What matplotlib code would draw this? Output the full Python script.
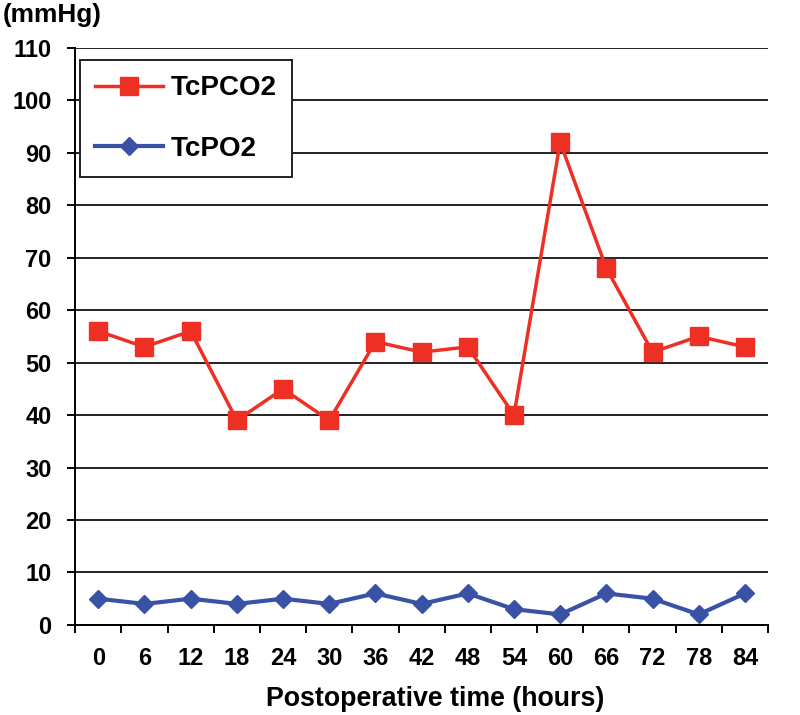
import matplotlib.pyplot as plt
import numpy as np

plt.rcParams['font.family'] = ['Liberation Sans', 'DejaVu Sans']
plt.rcParams['font.weight'] = 'bold'

# data
hours = ['0', '6', '12', '18', '24', '30', '36', '42', '48', '54', '60', '66', '72', '78', '84']
tcpco2 = [56, 53, 56, 39, 45, 39, 54, 52, 53, 40, 92, 68, 52, 55, 53]
tcpo2 = [5, 4, 5, 4, 5, 4, 6, 4, 6, 3, 2, 6, 5, 2, 6]

fig = plt.figure(figsize=(8, 7.15), dpi=100)
ax = fig.add_axes([0.094, 0.126, 0.866, 0.807])

x = np.arange(len(hours))
ax.plot(x, tcpco2, color='#EE3024', lw=2.5, marker='s', ms=13,
        label='TcPCO2', zorder=3)
ax.plot(x, tcpo2, color='#3A52A6', lw=3, marker='D', ms=9,
        label='TcPO2', zorder=3)

ax.set_xlim(-0.5, len(hours) - 0.5)
ax.set_ylim(0, 110)
ax.set_yticks(range(0, 111, 10))
ax.yaxis.grid(True, color='#222222', lw=1.4)
ax.set_axisbelow(True)

# category labels centred, tick marks at the boundaries
ax.set_xticks(x)
ax.set_xticklabels(hours)
ax.set_xticks(np.arange(-0.5, len(hours), 1), minor=True)
ax.tick_params(axis='x', which='major', length=0, labelsize=17, pad=16)
ax.tick_params(axis='x', which='minor', length=6, width=1.4, direction='out')
ax.tick_params(axis='y', length=6, width=1.4, labelsize=17, pad=11)

for s in ['top', 'right']:
    ax.spines[s].set_visible(False)
ax.spines['left'].set_linewidth(1.4)
ax.spines['bottom'].set_linewidth(1.4)

ax.set_xlabel('Postoperative time (hours)', fontsize=19.3, fontweight='bold')
ax.xaxis.set_label_coords(0.52, -0.106)
fig.text(0.004, 0.979, '(mmHg)', fontsize=18.9, fontweight='bold', va='center', ha='left')

leg = ax.legend(loc='upper left', bbox_to_anchor=(0.007, 0.979), fontsize=20,
                labelspacing=1.25, handlelength=2.45, handletextpad=0.25,
                borderpad=0.55, borderaxespad=0,
                fancybox=False, framealpha=1, edgecolor='#222222')
leg.get_frame().set_linewidth(1.4)

plt.savefig('out.png', dpi=100)
